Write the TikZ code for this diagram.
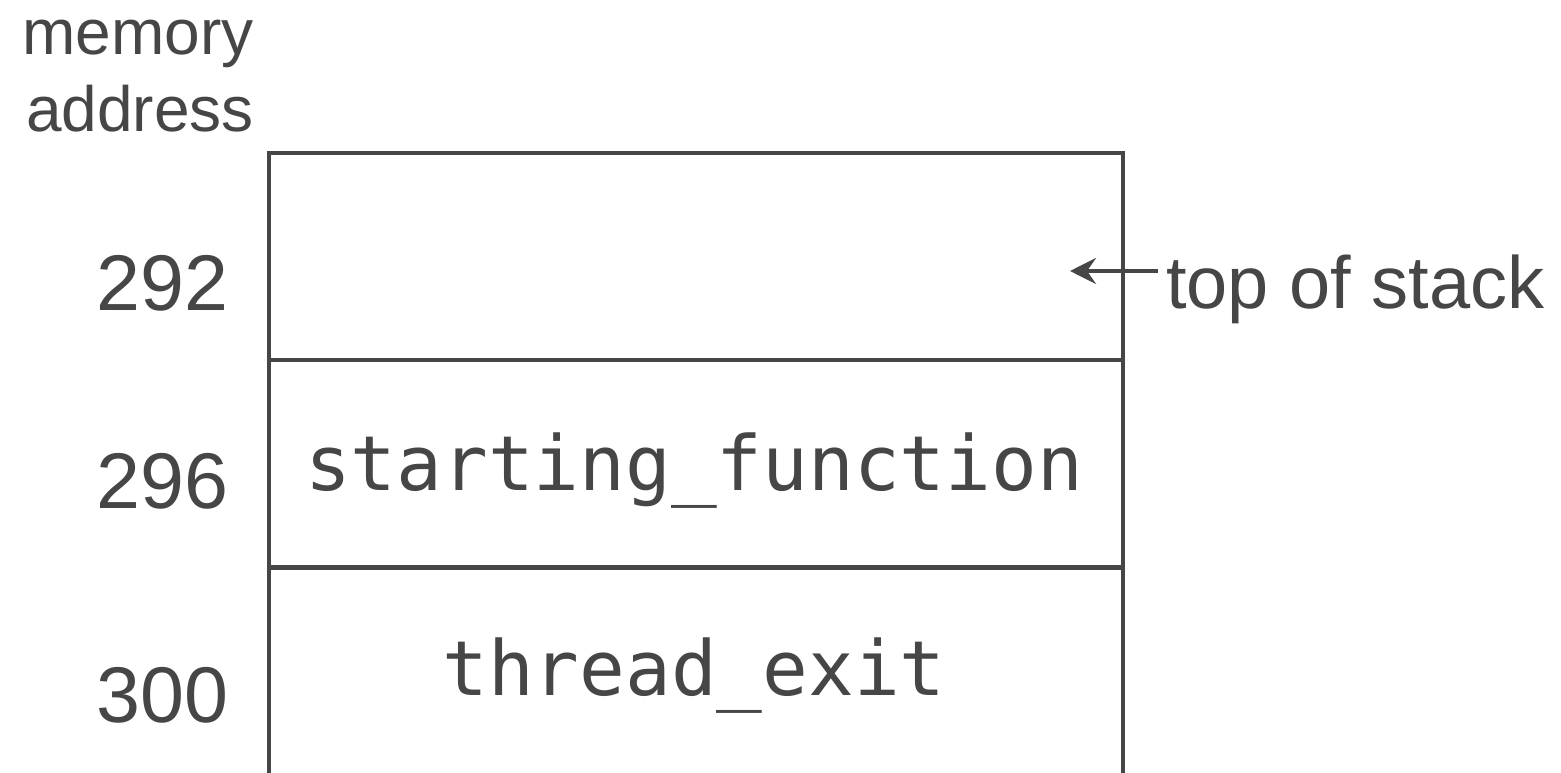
\documentclass[tikz,border=0pt]{standalone}
\usepackage{fontspec}
\setmainfont{Liberation Sans}
\setmonofont{DejaVu Sans Mono}
\usetikzlibrary{arrows.meta}
\definecolor{ink}{HTML}{464646}
\begin{document}
\begin{tikzpicture}[x=1pt,y=-1pt,
  cell/.style={draw=ink,line width=4pt,minimum width=854pt,minimum height=207pt,inner sep=0pt,anchor=north west},
  lab/.style={text=ink,inner sep=0pt,font=\fontsize{79}{80}\selectfont},
  side/.style={text=ink,inner sep=0pt,font=\fontsize{74}{80}\selectfont},
  hdr/.style={text=ink,inner sep=0pt,font=\fontsize{64}{76}\selectfont},
  code/.style={text=ink,inner sep=0pt,font=\ttfamily\fontsize{76}{80}\selectfont}]
\useasboundingbox (0,0) rectangle (1561,773);
\node[cell] (c1) at (267,151) {};
\node[cell] (c2) at (267,358) {};
\node[cell,minimum height=230pt] (c3) at (267,566) {};
\node[hdr,anchor=base east] (m1) at (254,55) {memory};
\node[hdr,anchor=base east] (m2) at (254,132) {address};
\node[lab,anchor=base east] (a1) at (229,310) {292};
\node[lab,anchor=base east] (a2) at (229,508) {296};
\node[lab,anchor=base east] (a3) at (229,722) {300};
\node[code,anchor=base] (t2) at (694,490) {starting\_function};
\node[code,anchor=base] (t3) at (694,695) {thread\_exit};
\node[side,anchor=base west] (tos) at (1166,308) {top of stack};
\coordinate (tip) at (1070,271);
\draw[draw=ink,line width=4pt,-{Stealth[length=26pt,width=26pt,inset=9pt]}] ([xshift=-8pt]tos.west |- tip) -- (tip);
\end{tikzpicture}
\end{document}
